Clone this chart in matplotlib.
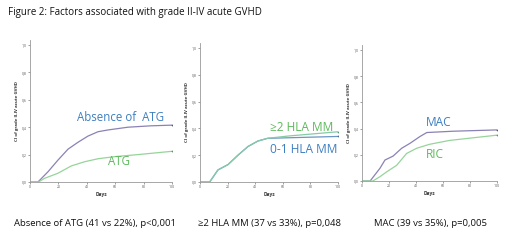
import matplotlib.pyplot as plt
import numpy as np

# Datos
days_abs = [0, 5.6, 12.7, 19.7, 26.8, 33.8, 40.8, 47.9, 55, 69, 85, 100]
absence_atg = [0, 0, 0.075, 0.16, 0.24, 0.29, 0.335, 0.367, 0.38, 0.40, 0.41, 0.415]
days_atg = [0, 6, 10.3, 19.7, 29, 38.5, 48, 59.6, 76, 100]
atg = [0, 0, 0.027, 0.064, 0.117, 0.148, 0.17, 0.185, 0.20, 0.224]

days_hla = [0, 7, 13, 20.3, 27.5, 34.8, 42, 49, 63.8, 100]
hla_2mm = [0, 0, 0.09, 0.13, 0.20, 0.265, 0.306, 0.326, 0.343, 0.375]
hla_01mm = [0, 0, 0.09, 0.13, 0.20, 0.265, 0.306, 0.326, 0.33, 0.34]

days_mac = [0, 6, 13.3, 17, 23, 29.4, 35.6, 43, 48, 67.6, 100]
mac = [0, 0, 0.097, 0.16, 0.19, 0.25, 0.288, 0.34, 0.37, 0.38, 0.39]
days_ric = [0, 8, 13.3, 18.3, 25.7, 33, 40.5, 50, 65, 100]
ric = [0, 0, 0.033, 0.07, 0.12, 0.21, 0.25, 0.28, 0.31, 0.35]

yticks = [0, 0.2, 0.4, 0.6, 0.8, 1.0]
ytick_labels = ['0,0', '0,2', '0,4', '0,6', '0,8', '1,0']
xticks = [0, 20, 40, 60, 80, 100]

captions = ['Absence of ATG (41 vs 22%), p<0,001',
            '\u22652 HLA MM (37 vs 33%), p=0,048',
            'MAC (39 vs 35%), p=0,005']

purple = '#8a82b4'
green_line = '#96d49a'
blue_txt = '#3d7fc1'
green_txt = '#5cba5c'

plt.rcParams['font.family'] = ['Open Sans', 'DejaVu Sans']

W, H = 520, 241
fig = plt.figure(figsize=(W / 100, H / 100), dpi=100)


def make_ax(x0, x1, y0, y1):
    # y0 = pixel del 0,0 ; y1 = pixel del 1,0 (desde arriba)
    ytop = y1 - (y0 - y1) * 0.04
    ax = fig.add_axes([x0 / W, (H - y0) / H, (x1 - x0) / W, (y0 - ytop) / H])
    ax.set_xlim(0, 100)
    ax.set_ylim(0, 1.04)
    ax.spines['top'].set_visible(False)
    ax.spines['right'].set_visible(False)
    for s in ['left', 'bottom']:
        ax.spines[s].set_color('#999999')
        ax.spines[s].set_linewidth(0.6)
    ax.set_yticks(yticks)
    ax.set_yticklabels(ytick_labels)
    ax.set_xticks(xticks)
    ax.tick_params(labelsize=2.5, length=1.5, width=0.4, colors='#555555', pad=1)
    ax.set_xlabel('Days', fontsize=3.5, fontweight='bold', labelpad=2, color='#333333')
    ax.set_ylabel('CI of grade II-IV acute GVHD', fontsize=3.2, fontweight='bold', labelpad=2,
                  color='#333333')
    return ax


# Panel 1
ax1 = make_ax(30, 172, 182, 45)
ax1.plot(days_abs, absence_atg, color=purple, linewidth=0.9)
ax1.plot(days_atg, atg, color=green_line, linewidth=0.9)
ax1.plot([100], [absence_atg[-1]], marker='+', color='#555577', markersize=2, mew=0.5)
ax1.plot([100], [atg[-1]], marker='+', color='#559955', markersize=2, mew=0.5)
ax1.text(33, 0.47, 'Absence of  ATG', fontsize=8.3, color=blue_txt, va='center')
ax1.text(55, 0.15, 'ATG', fontsize=8.3, color=green_txt, va='center')

# Panel 2
ax2 = make_ax(200, 338, 182, 48)
ax2.plot(days_hla, hla_01mm, color='#6a96c4', linewidth=0.9)
ax2.plot(days_hla, hla_2mm, color='#86cba6', linewidth=0.9)
ax2.plot([100], [hla_2mm[-1]], marker='+', color='#559977', markersize=2, mew=0.5)
ax2.plot([100], [hla_01mm[-1]], marker='+', color='#556699', markersize=2, mew=0.5)
ax2.text(51, 0.41, '\u22652 HLA MM', fontsize=8.6, color=green_txt, va='center')
ax2.text(51, 0.24, '0-1 HLA MM', fontsize=8.6, color=blue_txt, va='center')

# Panel 3
ax3 = make_ax(362, 497, 181, 50)
ax3.plot(days_mac, mac, color=purple, linewidth=0.9)
ax3.plot(days_ric, ric, color=green_line, linewidth=0.9)
ax3.plot([100], [mac[-1]], marker='+', color='#555577', markersize=2, mew=0.5)
ax3.plot([100], [ric[-1]], marker='+', color='#559955', markersize=2, mew=0.5)
ax3.text(47, 0.45, 'MAC', fontsize=8.6, color=blue_txt, va='center')
ax3.text(47, 0.20, 'RIC', fontsize=8.6, color=green_txt, va='center')

# Titulo y leyendas inferiores
fig.text(8 / W, 1 - 12 / H, 'Figure 2: Factors associated with grade II-IV acute GVHD',
         fontsize=7.0, color='#111111', va='center', ha='left')
for cx, cap in zip([95, 270, 431], captions):
    fig.text(cx / W, 1 - 224 / H, cap, fontsize=6.8, color='#111111', va='center', ha='center')

fig.savefig('out.png', dpi=100, facecolor='white')
